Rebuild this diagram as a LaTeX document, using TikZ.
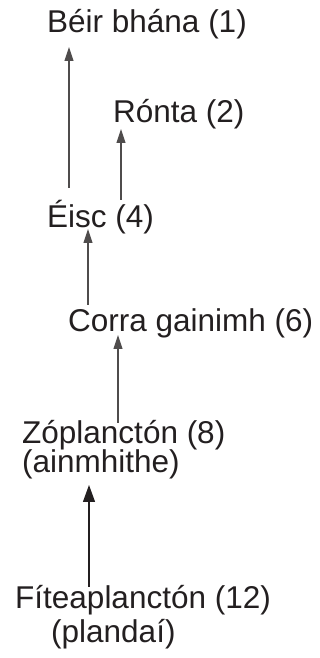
\documentclass[tikz,border=0pt]{standalone}
\usepackage{fontspec}
\setmainfont{Liberation Sans}
\usetikzlibrary{arrows.meta}
\definecolor{ink}{RGB}{35,31,32}

\begin{document}
\begin{tikzpicture}[x=1pt,y=1pt,
	label/.style={ anchor=base west, inner sep=0pt, text=ink, align=left, font=\fontsize{31.5}{27}\selectfont },
	arr/.style={ ink!80!white, line width=1.1pt, -{Triangle[length=14pt,width=9pt]} },
	arrbig/.style={ ink, line width=1.3pt, -{Triangle[length=17pt,width=12pt]} }
]
\useasboundingbox (0,0) rectangle (320,658);

\node at (47,625) (beir) [label] {Béir bhána (1)};
\node at (113,535) (ronta) [label] {Rónta (2)};
\node at (47,430) (eisc) [label] {Éisc (4)};
\node at (68,326) (corra) [label] {Corra gainimh (6)};
% two-line nodes sit on their last line
\node at (22,185) (zoo) [label] {Zóplanctón (8)\\[-1pt](ainmhithe)};
\node at (15,16) (fite) [label] {Fíteaplanctón (12)\\[3pt]\hspace*{36pt}(plandaí)};

% who eats whom
\draw[arr] ([xshift=22pt,yshift=40pt]eisc.base west) to ([xshift=22pt,yshift=-14pt]beir.base west);
\draw[arr] ([xshift=74pt,yshift=28pt]eisc.base west) to ([xshift=8pt,yshift=-6pt]ronta.base west);
\draw[arr] ([xshift=20pt,yshift=27pt]corra.base west) to ([xshift=41pt,yshift=-1pt]eisc.base west);
\draw[arr] ([xshift=96pt,yshift=50pt]zoo.base west) to ([xshift=50pt,yshift=-3pt]corra.base west);
\draw[arrbig] ([xshift=74pt,yshift=55pt]fite.base west) to ([xshift=67pt,yshift=-12pt]zoo.base west);

\end{tikzpicture}
\end{document}
